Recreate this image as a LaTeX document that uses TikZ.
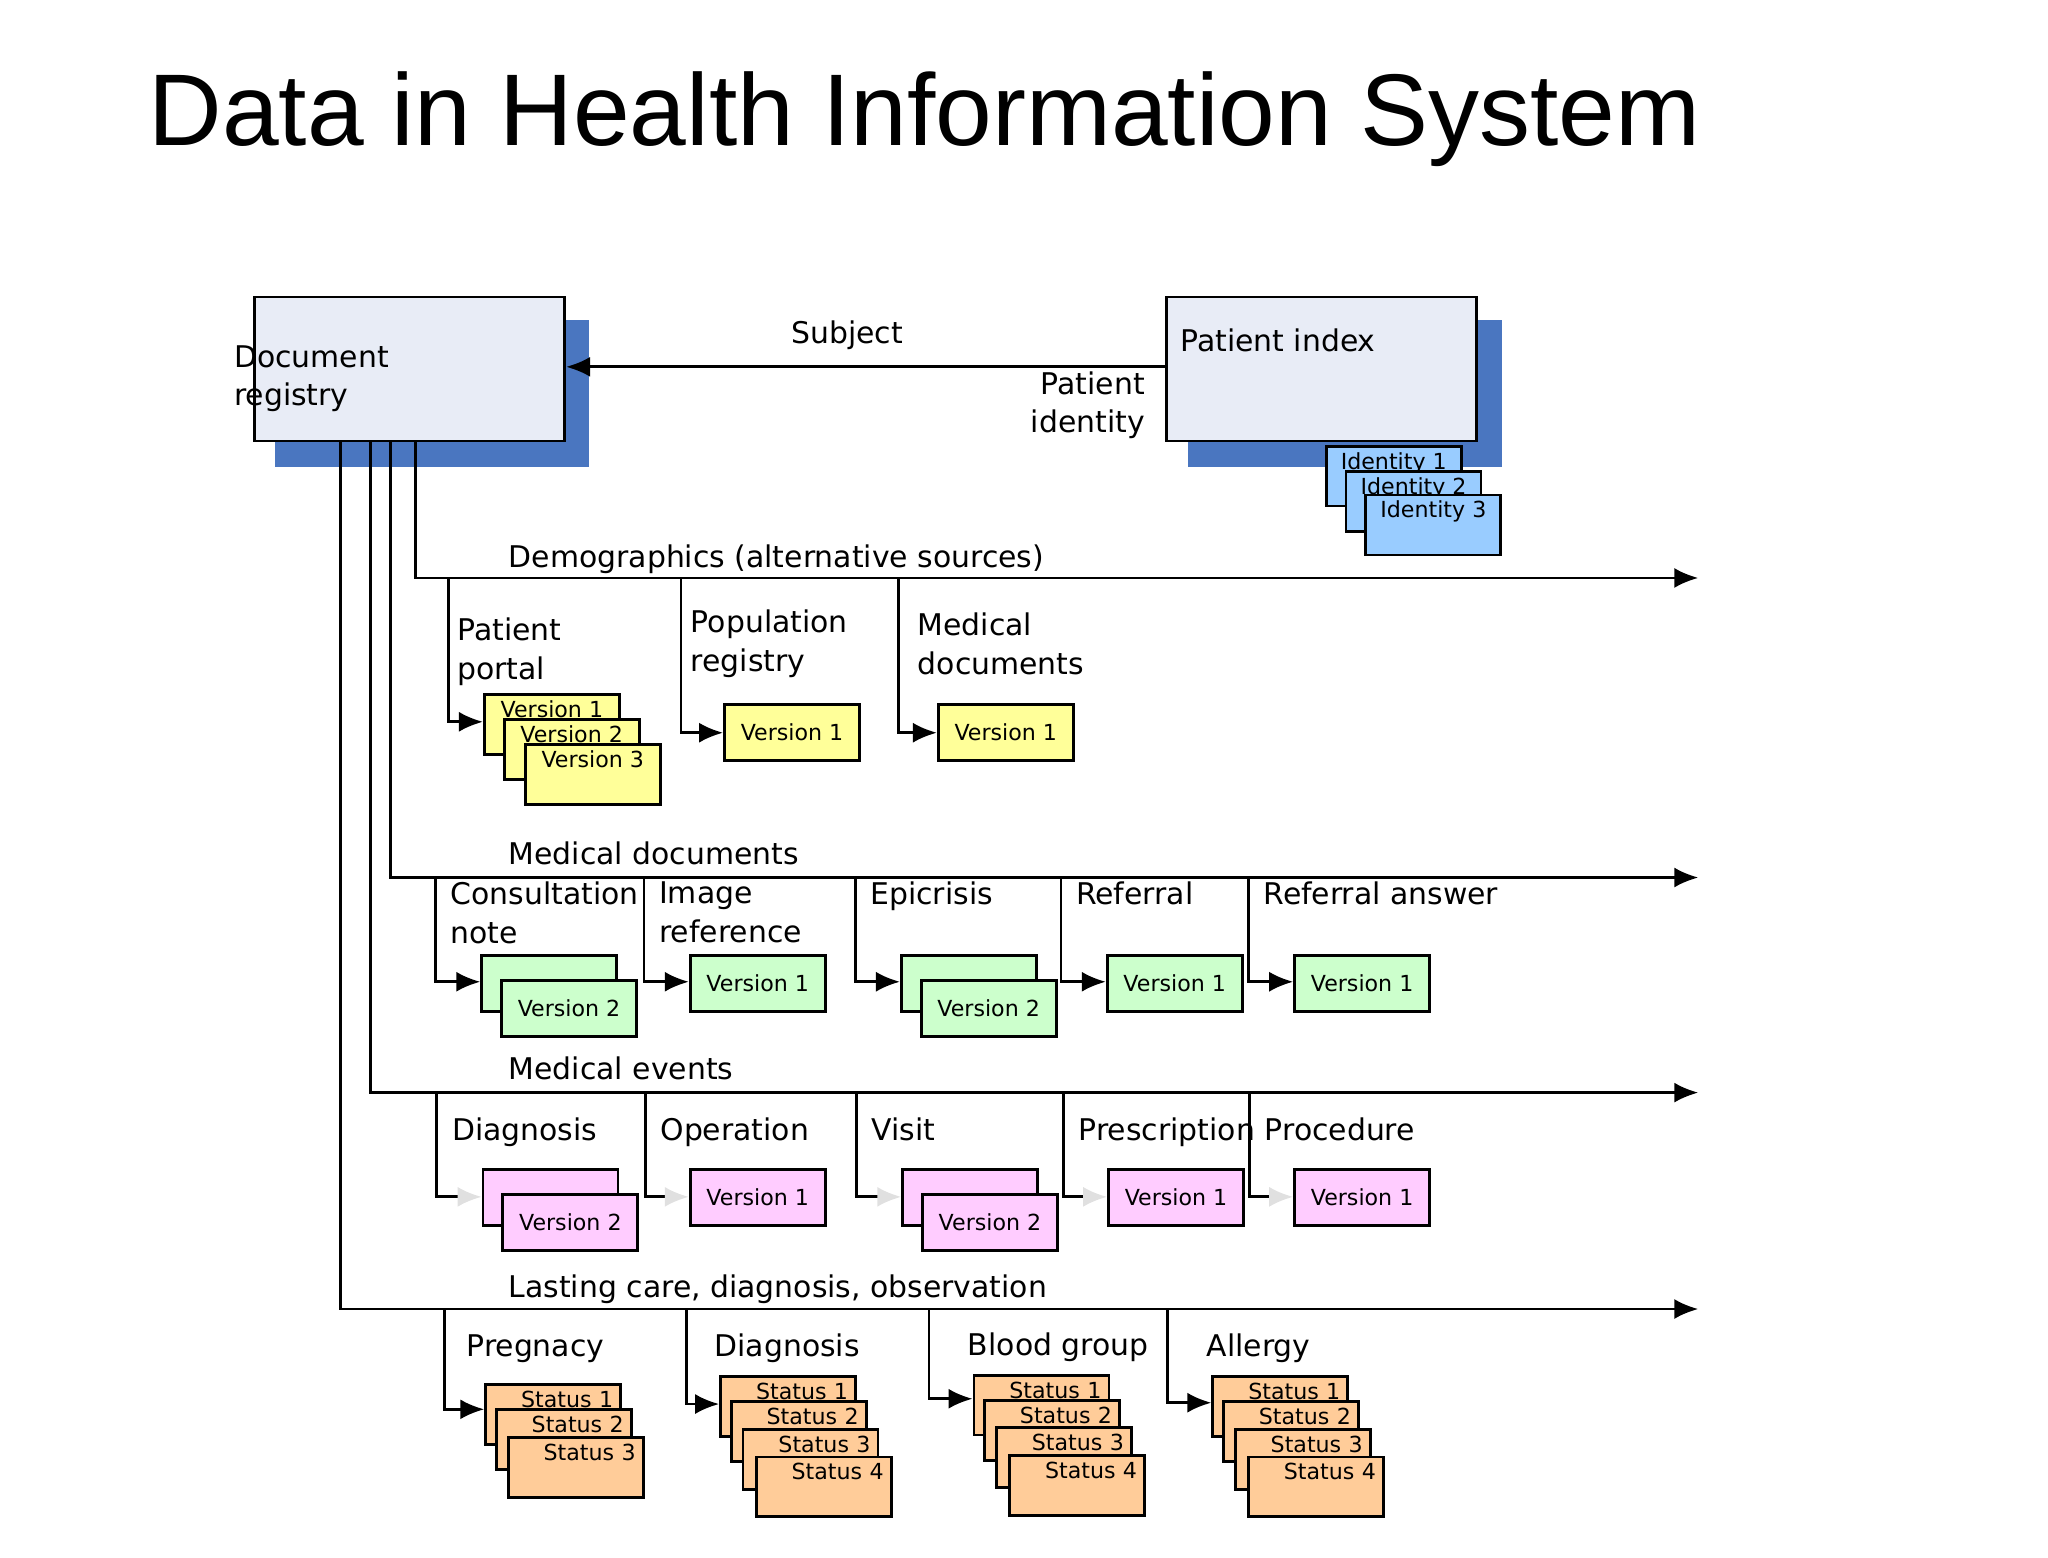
\documentclass[tikz,border=0pt]{standalone}
\usepackage{fontspec}
\setmainfont{DejaVu Sans}
\newfontfamily\titlefont{Liberation Sans}
\usetikzlibrary{arrows.meta}
\definecolor{regfill}{HTML}{E8ECF6}
\definecolor{shadowblue}{HTML}{4A76C0}
\definecolor{idblue}{HTML}{99CCFF}
\definecolor{yelbox}{HTML}{FFFF99}
\definecolor{grnbox}{HTML}{CCFFCC}
\definecolor{pnkbox}{HTML}{FFCCFF}
\definecolor{orgbox}{HTML}{FFCC99}
\begin{document}
\begin{tikzpicture}[x=0.0132cm, y=-0.0132cm,
    % text styles
    lbl/.style={font=\fontsize{8.5}{11}\selectfont, align=left, inner sep=0pt},
    % registry boxes
    bigbox/.style={draw, thick, fill=regfill, minimum width=3.1cm, minimum height=1.44cm, anchor=north west},
    shadow/.style={fill=shadowblue, minimum width=3.14cm, minimum height=1.47cm, anchor=north west},
    % small boxes
    vbox/.style={draw, thick, minimum width=1.35cm, minimum height=0.56cm, anchor=north west,
        font=\fontsize{6.3}{7}\selectfont, inner sep=0.5mm},
    top/.style={text height=1.8mm, text depth=3.2mm},
    sbox/.style={vbox, top, fill=orgbox, text width=1.2cm, align=right},
    arr/.style={thick, -{Latex[length=2.4mm,width=2mm]}},
    garr/.style={thick, black!12, -{Latex[length=2.4mm,width=2mm]}}
    ]
    \useasboundingbox (0,0) rectangle (1552,1180);

    \node[anchor=west, inner sep=0pt, font=\titlefont\fontsize{29}{34}\selectfont] (title) at (112,90) {Data in Health Information System};

    % registry and patient index
    \node[shadow] (regsh) at (208,242) {};
    \node[bigbox] (reg) at (192,224) {};
    \node[lbl] at (236,287) {Document\\registry};
    \node[shadow] (pish) at (900,242) {};
    \node[bigbox] (pi) at (883,224) {};
    \node[lbl, anchor=west] at (894,258) {Patient index};
    \draw[arr] (pi.west |- 0,278) -- (reg.east |- 0,278);
    \node[lbl] at (642,254) {Subject};
    \node[lbl, align=right, anchor=east] at (868,307) {Patient\\identity};
    \foreach \i/\dx/\dy in {1/0/0,2/15/19,3/30/37}
        \node[vbox, top, fill=idblue] (id\i) at ({1004+\dx},{337+\dy}) {Identity \i};

    % main lines
    \coordinate (demo) at (315,438);
    \coordinate (meddoc) at (296,665);
    \coordinate (medev) at (281,828);
    \coordinate (last) at (258,992);
    \foreach \c in {demo,meddoc,medev,last} {
        \draw[arr] (reg.south -| \c) -- (\c) -- (\c -| 1287,0);
    }
    \node[lbl, anchor=base west] at (385,430) {Demographics (alternative sources)};
    \node[lbl, anchor=base west] at (385,655) {Medical documents};
    \node[lbl, anchor=base west] at (385,818) {Medical events};
    \node[lbl, anchor=base west] at (385,983) {Lasting care, diagnosis, observation};

    % demographics
    \foreach \i/\dx/\dy in {1/0/0,2/15/19,3/31/38}
        \node[vbox, top, fill=yelbox] (pp\i) at ({366+\dx},{525+\dy}) {Version \i};
    \node[vbox, fill=yelbox] (pop) at (548,533) {Version 1};
    \node[vbox, fill=yelbox] (mdoc) at (710,533) {Version 1};
    \draw[arr] (340,438) |- (pp1.west |- 0,547);
    \draw[arr] (516,438) |- (pop.west);
    \draw[arr] (681,438) |- (mdoc.west);
    \node[lbl] at (386,494) {Patient\\portal};
    \node[lbl, anchor=west] at (523,488) {Population\\registry};
    \node[lbl, anchor=west] at (695,488) {Medical\\documents};

    % medical documents
    \foreach \n/\x/\t/\s in {cons/330/{Consultation\\note}/2, img/488/{Image\\reference}/1,
                             epi/648/Epicrisis/2, ref/804/Referral/1, ans/946/Referral answer/1} {
        \ifnum\s=2
            \node[vbox, fill=grnbox] (\n a) at ({\x+34},723) {};
            \node[vbox, fill=grnbox] (\n) at ({\x+49},742) {Version 2};
        \else
            \node[vbox, fill=grnbox, alias=\n a] (\n) at ({\x+34},723) {Version 1};
        \fi
        \draw[arr] (\x,665) |- (\n a.west |- 0,744);
        \node[lbl, anchor=north west] at ({\x+11},668) {\t};
    }

    % medical events
    \foreach \n/\x/\t/\s in {diag/331/Diagnosis/2, oper/489/Operation/1,
                             visit/649/Visit/2, pres/806/Prescription/1, proc/947/Procedure/1} {
        \ifnum\s=2
            \node[vbox, fill=pnkbox] (\n a) at ({\x+34},885) {};
            \node[vbox, fill=pnkbox] (\n) at ({\x+49},904) {Version 2};
        \else
            \node[vbox, fill=pnkbox, alias=\n a] (\n) at ({\x+33},885) {Version 1};
        \fi
        \draw[thick] (\x,828) |- ({\x+18},907);
        \draw[garr] ({\x+16},907) -- (\n a.west |- 0,907);
        \node[lbl, anchor=base west] at ({\x+11},864) {\t};
    }

    % lasting care
    \foreach \i/\dx/\dy in {1/0/0,2/8/19,3/17/40}
        \node[sbox] (preg\i) at ({367+\dx},{1048+\dy}) {Status \i};
    \draw[arr] (337,992) |- (preg1.west |- 0,1068);
    \node[lbl, anchor=base west] at (353,1028) {Pregnacy};
    \foreach \n/\x/\bx/\by/\ay/\t in {ldiag/520/545/1042/1064/Diagnosis,
                                      blood/704/737/1041/1060/Blood group,
                                      allg/885/918/1042/1063/Allergy} {
        \foreach \i/\dx/\dy in {1/0/0,2/8/19,3/17/40,4/27/61}
            \node[sbox] (\n\i) at ({\bx+\dx},{\by+\dy}) {Status \i};
        \draw[arr] (\x,992) |- (\n1.west |- 0,\ay);
        \node[lbl, anchor=base west] at ({\bx-4},{\by-14}) {\t};
    }
\end{tikzpicture}
\end{document}
